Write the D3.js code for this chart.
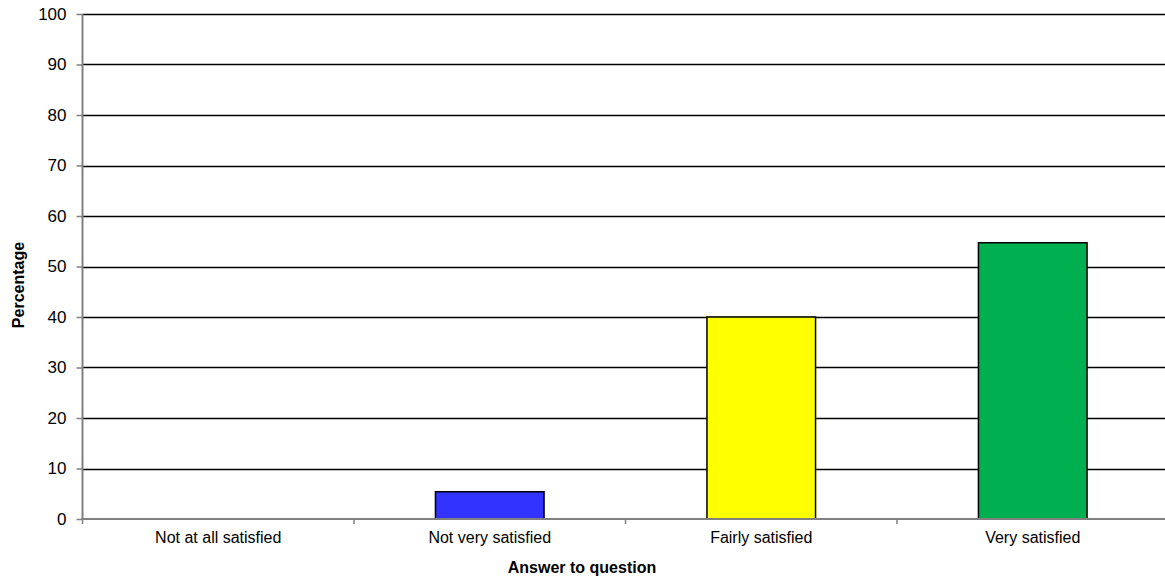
<!DOCTYPE html>
<html><head><meta charset="utf-8">
<script src="https://cdn.jsdelivr.net/npm/d3@7"></script>
<style>body{margin:0;background:#fff;}svg{display:block;font-family:"Liberation Sans",Arial,sans-serif;}</style>
</head><body>
<script>
const categories = ["Not at all satisfied","Not very satisfied","Fairly satisfied","Very satisfied"];
const values = [0, 5.4, 40.0, 54.7];
const colors = ["#ff0000","#3333ff","#ffff00","#00b050"];
const yTicks = [0,10,20,30,40,50,60,70,80,90,100];

const W=1165,H=581;
const svg=d3.select("body").append("svg").attr("width",W).attr("height",H);
const x=d3.scaleBand().domain(categories).range([82.5,1168.5]).paddingInner(0.6).paddingOuter(0.3);
const xb=d3.scaleBand().domain(categories).range([82.5,1168.5]);
const y=d3.scaleLinear().domain([0,100]).range([519,14]);

// gridlines
svg.append("g").selectAll("line").data(yTicks.filter(d=>d>0)).join("line")
 .attr("x1",82.5).attr("x2",1168.5).attr("y1",d=>Math.round(y(d))+0.5).attr("y2",d=>Math.round(y(d))+0.5)
 .attr("stroke","#000").attr("stroke-width",1.3);

// bars
svg.append("g").selectAll("rect").data(categories.map((c,i)=>({c,v:values[i],col:colors[i]})).filter(d=>d.v>0)).join("rect")
 .attr("x",d=>x(d.c)).attr("width",x.bandwidth())
 .attr("y",d=>y(d.v)).attr("height",d=>y(0)-y(d.v))
 .attr("fill",d=>d.col).attr("stroke","#000").attr("stroke-width",1.5);

// y axis
const ya=svg.append("g").attr("transform","translate(82.5,0)")
 .call(d3.axisLeft(y).tickValues(yTicks).tickSize(6).tickPadding(10));
ya.select(".domain").attr("stroke","#808080").attr("stroke-width",2).attr("d","M0,14V519");
ya.selectAll(".tick line").attr("stroke","#808080").attr("stroke-width",1.5).attr("x1",-6).attr("x2",0);
ya.selectAll("text").attr("font-size",17).attr("fill","#000").attr("font-family","Liberation Sans, Arial, sans-serif");

// x axis
const xa=svg.append("g").attr("transform","translate(0,519)");
xa.append("line").attr("x1",81.5).attr("x2",1168.5).attr("y1",0).attr("y2",0).attr("stroke","#808080").attr("stroke-width",2);
const bounds=categories.map(c=>xb(c));
xa.selectAll(".bt").data(bounds).join("line").attr("class","bt")
 .attr("x1",d=>d).attr("x2",d=>d).attr("y1",0).attr("y2",5).attr("stroke","#808080").attr("stroke-width",1.5);
xa.selectAll(".cl").data(categories).join("text").attr("class","cl")
 .attr("x",d=>xb(d)+xb.bandwidth()/2).attr("y",24).attr("text-anchor","middle")
 .attr("font-size",16).attr("fill","#000").text(d=>d);

svg.append("text").attr("x",582).attr("y",573).attr("text-anchor","middle")
 .attr("font-size",16).attr("font-weight","bold").text("Answer to question");
svg.append("text").attr("transform","translate(24,285) rotate(-90)").attr("text-anchor","middle")
 .attr("font-size",16).attr("font-weight","bold").text("Percentage");
</script>
</body></html>
